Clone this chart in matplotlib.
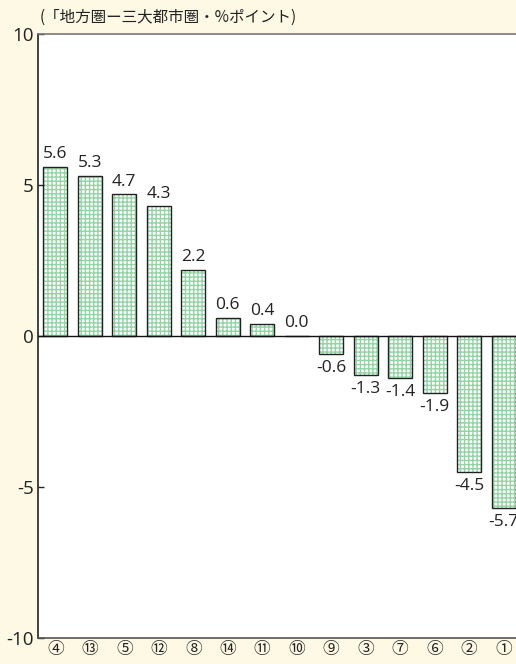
import matplotlib.pyplot as plt

plt.rcParams['font.family'] = ['Noto Sans CJK JP', 'DejaVu Sans']
num_font = ['Open Sans', 'Noto Sans CJK JP']

# 地方圏と三大都市圏の差（%ポイント）
labels = ['④', '⑬', '⑤', '⑫', '⑧', '⑭', '⑪', '⑩', '⑨', '③', '⑦', '⑥', '②', '①']
values = [5.6, 5.3, 4.7, 4.3, 2.2, 0.6, 0.4, 0.0, -0.6, -1.3, -1.4, -1.9, -4.5, -5.7]
yticks = [-10, -5, 0, 5, 10]

bg = '#fef9e4'
green = '#93d4a5'

fig = plt.figure(figsize=(5.16, 6.64), dpi=100, facecolor=bg)
# 右端は図の外まではみ出す
ax = fig.add_axes([0.0736, 0.0392, 0.936, 0.9096])
ax.set_facecolor('white')

x = list(range(len(values)))
# 網掛け（緑の格子）と黒枠を別々に描く
ax.bar(x, values, width=0.7, color='white', edgecolor=green, hatch='++++', linewidth=0)
ax.bar(x, values, width=0.7, fill=False, edgecolor='#222222', linewidth=1.0)
ax.axhline(0, color='#111111', linewidth=1.0)

for i, v in enumerate(values):
    if v >= 0:
        ax.text(i, v + 0.15, f'{v:.1f}', ha='center', va='bottom', fontsize=12.5,
                family=num_font, color='#222222')
    else:
        ax.text(i, v - 0.2, f'{v:.1f}', ha='center', va='top', fontsize=12.5,
                family=num_font, color='#222222')

ax.set_xlim(-0.5, 13.5)
ax.set_ylim(-10, 10)
ax.set_yticks(yticks)
ax.set_yticklabels([str(t) for t in yticks], fontsize=13.5, family=num_font, color='#222222')
ax.set_xticks(x)
ax.set_xticklabels(labels, fontsize=12, color='#222222')
ax.tick_params(axis='x', length=0, pad=2)
ax.tick_params(axis='y', direction='in', length=4, width=1, pad=3, color='#222222')

ax.spines['left'].set_color('#222222')
ax.spines['left'].set_linewidth(1.2)
ax.spines['bottom'].set_color('#555555')
ax.spines['bottom'].set_linewidth(1.2)
ax.spines['top'].set_color('#777777')
ax.spines['top'].set_linewidth(1.2)
ax.spines['right'].set_visible(False)

fig.text(0.076, 0.974, '(「地方圏ー三大都市圏・%ポイント)', fontsize=11.2,
         ha='left', va='center', color='#222222')

fig.savefig('out.png', dpi=100, facecolor=bg)
